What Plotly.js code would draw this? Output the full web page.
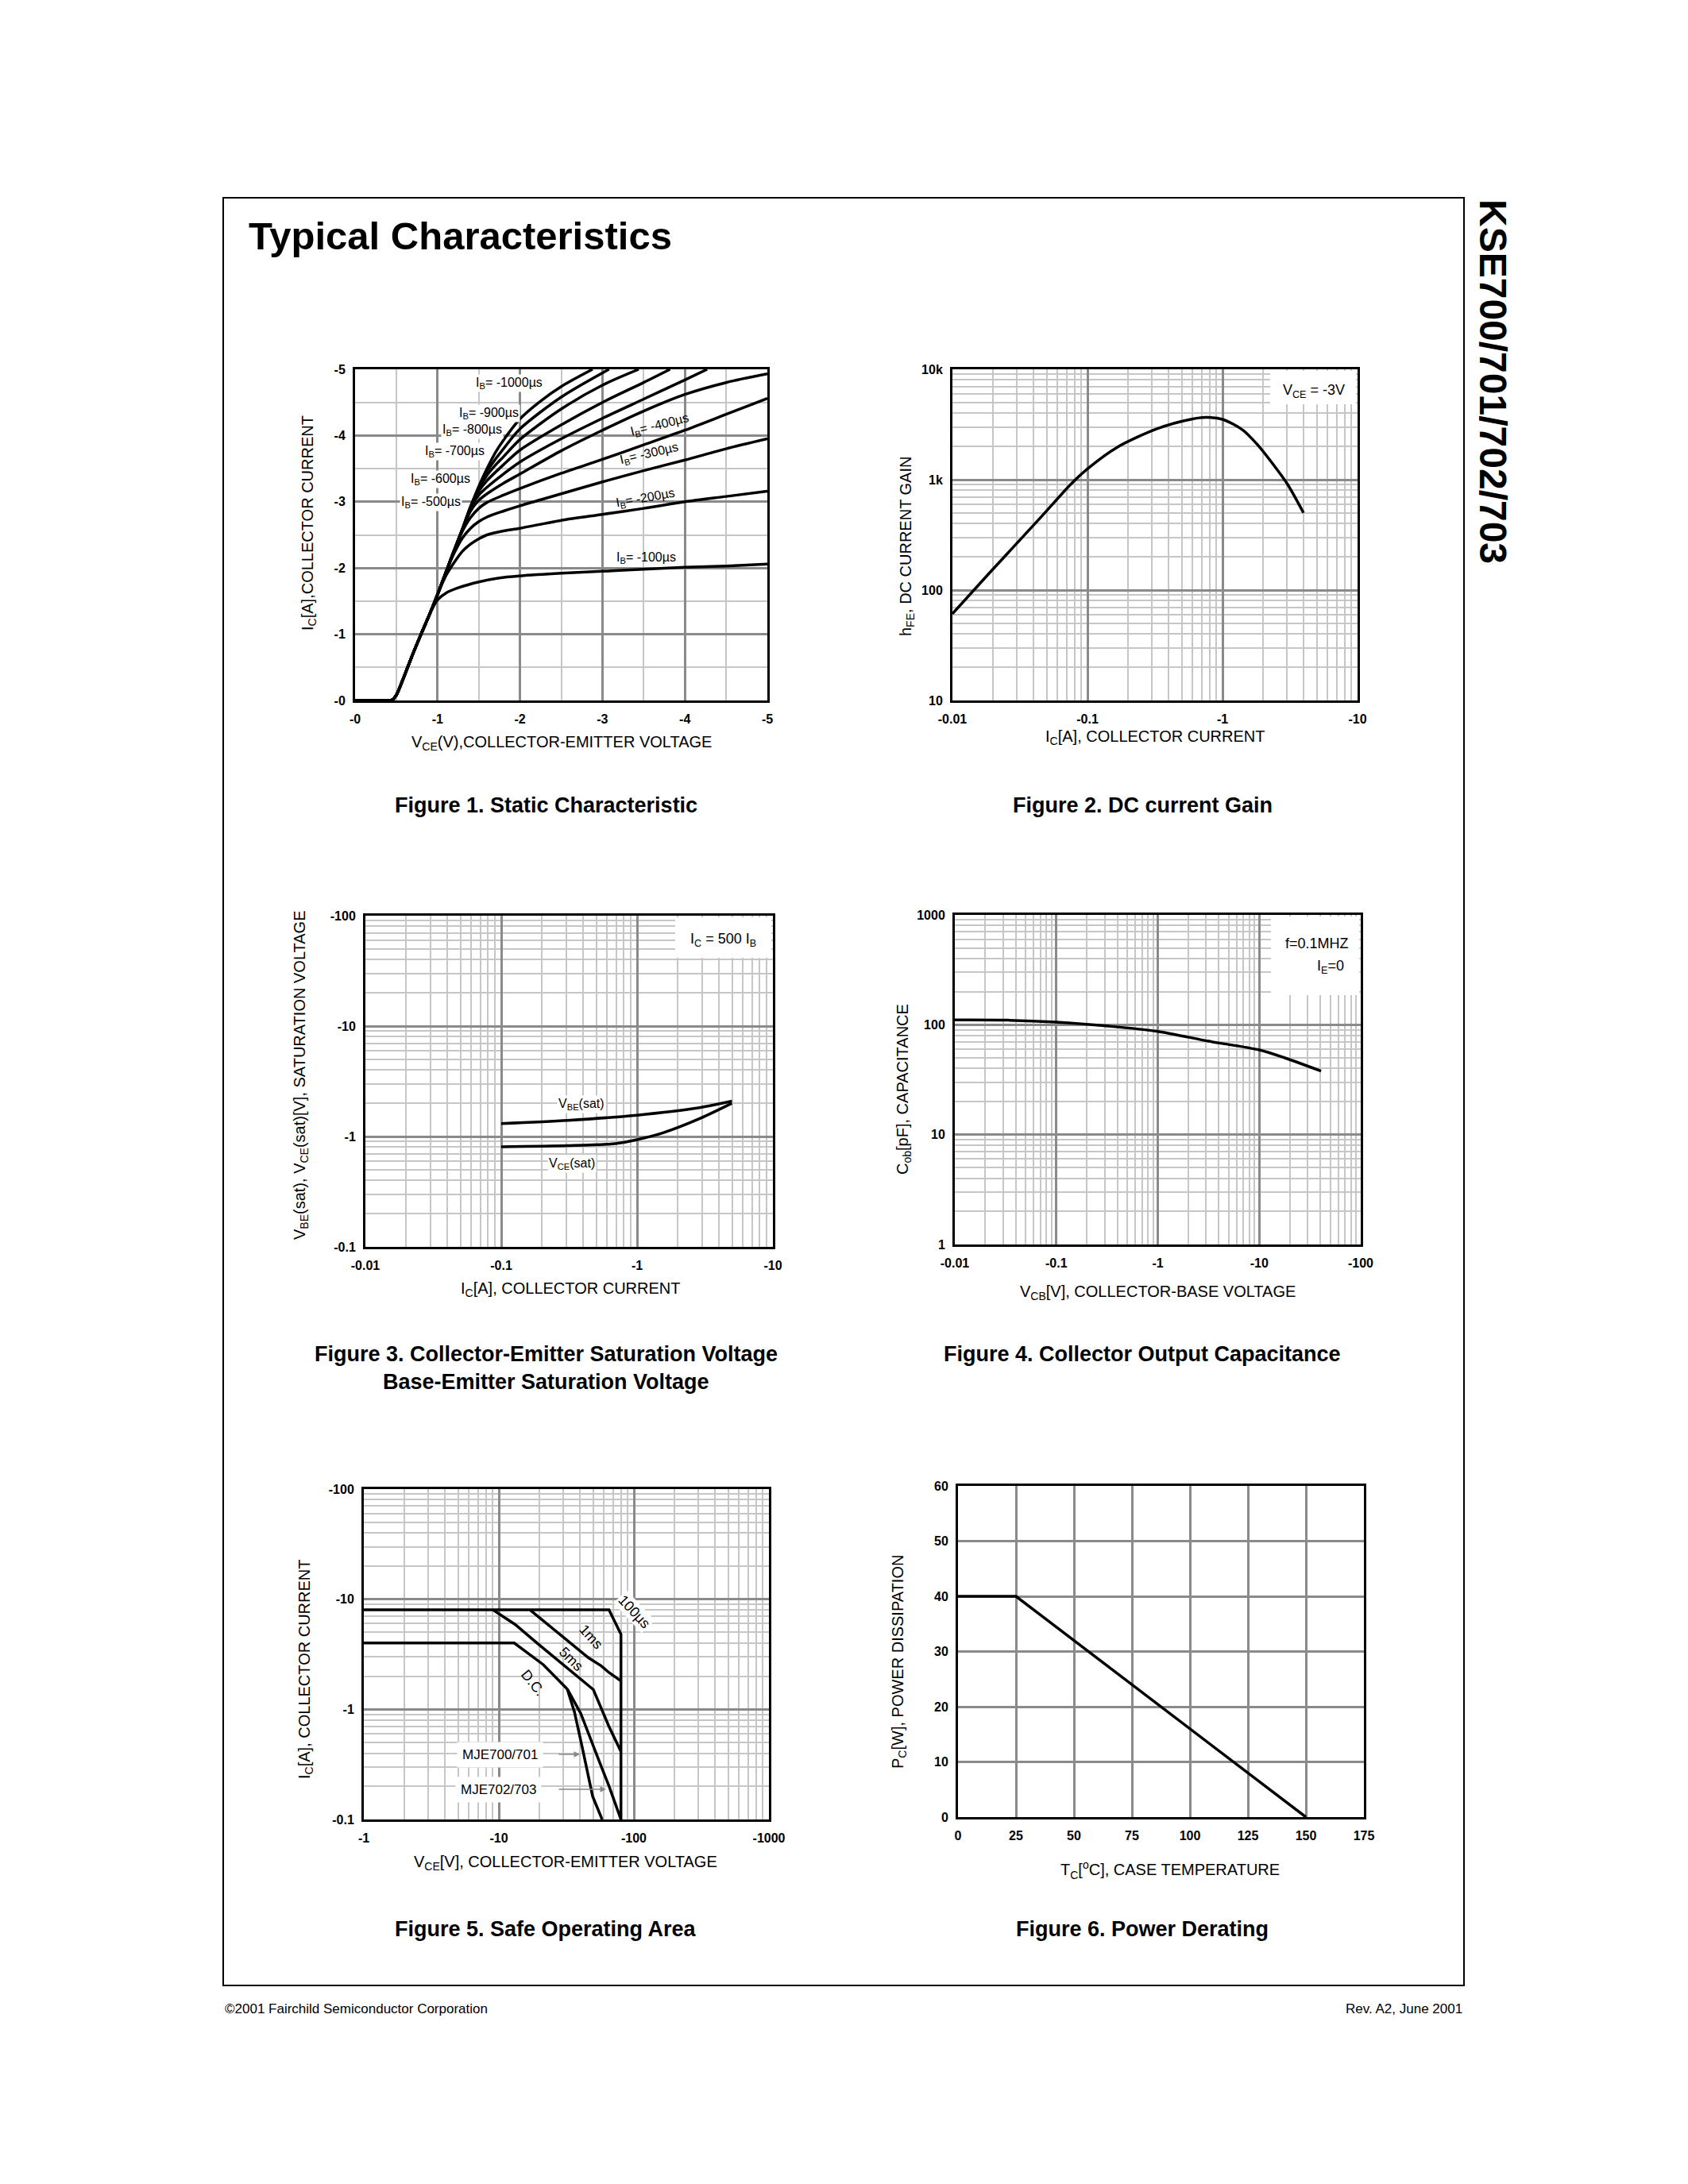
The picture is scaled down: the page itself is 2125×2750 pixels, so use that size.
<!DOCTYPE html>
<html>
<head>
<meta charset="utf-8">
<script src="https://cdn.plot.ly/plotly-3.0.1.min.js"></script>
<style>html,body{margin:0;padding:0;background:#fff;}#chart{width:2125px;height:2750px;}</style>
</head>
<body>
<div id="chart"></div>
<script>
// ---------- DATA (magnitudes; the datasheet prints the minus signs in the tick labels) ----------
// Figure 1 : Static characteristic, IC vs VCE for several IB
const vceBase = [0, 0.2, 0.4, 0.45, 0.5, 0.6, 0.7, 0.8, 0.9];
const icBase  = [0, 0, 0, 0.01, 0.08, 0.38, 0.70, 1.00, 1.29];
const ibLabels = ["-100", "-200", "-300", "-400", "-500", "-600", "-700", "-800", "-900", "-1000"];
const vce100 = [0.95, 1.0, 1.1, 1.25, 1.5, 1.75, 2.0, 2.5, 3.0, 3.5, 4.0, 4.5, 5.0];
const ic100  = [1.42, 1.52, 1.62, 1.70, 1.79, 1.85, 1.88, 1.92, 1.95, 1.98, 2.01, 2.03, 2.06];
const vce200 = [1.0, 1.1, 1.2, 1.3, 1.4, 1.5, 1.6, 1.8, 2.0, 2.5, 3.0, 3.5, 4.0, 4.5, 5.0];
const ic200  = [1.60, 1.88, 2.08, 2.25, 2.36, 2.44, 2.50, 2.56, 2.60, 2.72, 2.81, 2.90, 3.00, 3.08, 3.16];
const vce300 = [1.0, 1.1, 1.2, 1.3, 1.4, 1.5, 1.6, 1.8, 2.0, 2.5, 3.0, 3.5, 4.0, 4.5, 5.0];
const ic300  = [1.60, 1.93, 2.22, 2.45, 2.60, 2.70, 2.77, 2.86, 2.94, 3.12, 3.30, 3.47, 3.63, 3.80, 3.95];
const vce400 = [1.0, 1.1, 1.2, 1.3, 1.4, 1.5, 1.6, 1.8, 2.0, 2.5, 3.0, 3.5, 4.0, 4.5, 5.0];
const ic400  = [1.60, 1.93, 2.26, 2.55, 2.76, 2.90, 2.99, 3.10, 3.20, 3.43, 3.64, 3.86, 4.08, 4.32, 4.56];
const vce500 = [1.0, 1.1, 1.2, 1.3, 1.4, 1.5, 1.6, 1.8, 2.0, 2.5, 3.0, 3.5, 4.0, 4.5, 5.0];
const ic500  = [1.60, 1.93, 2.26, 2.58, 2.86, 3.02, 3.12, 3.28, 3.42, 3.77, 4.08, 4.37, 4.62, 4.80, 4.93];
const vce600 = [1.0, 1.1, 1.2, 1.3, 1.4, 1.5, 1.6, 1.8, 2.0, 2.5, 3.0, 3.5, 4.0, 4.27];
const ic600  = [1.60, 1.93, 2.26, 2.58, 2.90, 3.10, 3.22, 3.42, 3.60, 3.95, 4.26, 4.55, 4.84, 5.0];
const vce700 = [1.0, 1.1, 1.2, 1.3, 1.4, 1.5, 1.6, 1.8, 2.0, 2.5, 3.0, 3.5, 3.82];
const ic700  = [1.60, 1.93, 2.26, 2.58, 2.92, 3.16, 3.32, 3.56, 3.78, 4.16, 4.50, 4.80, 5.0];
const vce800 = [1.0, 1.1, 1.2, 1.3, 1.4, 1.5, 1.6, 1.7, 1.8, 2.0, 2.5, 3.0, 3.44];
const ic800  = [1.60, 1.93, 2.26, 2.58, 2.92, 3.20, 3.40, 3.55, 3.68, 3.94, 4.40, 4.76, 5.0];
const vce900 = [1.0, 1.1, 1.2, 1.3, 1.4, 1.5, 1.6, 1.7, 1.8, 2.0, 2.5, 3.08];
const ic900  = [1.60, 1.93, 2.26, 2.58, 2.92, 3.22, 3.46, 3.64, 3.80, 4.10, 4.58, 5.0];
const vce1000 = [1.0, 1.1, 1.2, 1.3, 1.4, 1.5, 1.6, 1.7, 1.8, 2.0, 2.25, 2.5, 2.88];
const ic1000  = [1.60, 1.93, 2.26, 2.58, 2.92, 3.23, 3.50, 3.74, 3.93, 4.25, 4.52, 4.74, 5.0];
const fig1XTicks = ["-0", "-1", "-2", "-3", "-4", "-5"];
const fig1YTicks = ["-0", "-1", "-2", "-3", "-4", "-5"];

// Figure 2 : DC current gain, VCE = -3V
const icGain = [0.01, 0.0189, 0.0451, 0.0753, 0.1, 0.167, 0.33, 0.582, 0.753, 1.0, 1.41, 1.81, 2.41, 3.03, 3.98];
const hfe    = [61, 144, 456, 910, 1254, 1974, 2904, 3524, 3667, 3524, 2826, 2084, 1341, 910, 501];
const fig2XTicks = ["-0.01", "-0.1", "-1", "-10"];
const fig2YTicks = ["10", "100", "1k", "10k"];

// Figure 3 : saturation voltages, IC = 500 IB
const icVbe = [0.1, 0.31, 1.0, 2.62, 4.99];
const vbeSat = [1.31, 1.40, 1.56, 1.79, 2.09];
const icVce = [0.1, 0.31, 0.69, 1.0, 1.54, 2.92, 4.99];
const vceSat = [0.807, 0.826, 0.863, 0.937, 1.076, 1.46, 2.0];
const fig3XTicks = ["-0.01", "-0.1", "-1", "-10"];
const fig3YTicks = ["-0.1", "-1", "-10", "-100"];

// Figure 4 : collector output capacitance
const vcb = [0.01, 0.0334, 0.1, 0.326, 1.0, 3.18, 10, 17.8, 40.7];
const cob = [110.5, 110, 105.7, 97.2, 87.0, 70.9, 59.0, 50.0, 37.9];
const fig4XTicks = ["-0.01", "-0.1", "-1", "-10", "-100"];
const fig4YTicks = ["1", "10", "100", "1000"];

// Figure 5 : safe operating area
const soaV100us = [1, 65.4, 80.2, 80.2];
const soaI100us = [8, 8, 4.81, 0.1];
const soaV1ms = [17.0, 29.3, 46.2, 57.3, 65.4, 80.2];
const soaI1ms = [8, 4.67, 2.93, 2.48, 2.16, 1.81];
const soaV5ms = [9.05, 13.2, 19.1, 50.1, 65.4, 80.2];
const soaI5ms = [8, 5.90, 4.01, 1.51, 0.698, 0.413];
const soaVdc = [1, 13.0, 21.3, 32.1];
const soaIdc = [4, 4, 2.55, 1.53];
const soaV701 = [32.1, 36.3, 41.5, 49.5, 58.2];
const soaI701 = [1.53, 0.945, 0.449, 0.162, 0.1];
const soaV703 = [32.1, 40.4, 55.7, 65.4, 80.2];
const soaI703 = [1.53, 0.919, 0.331, 0.201, 0.1];
const fig5XTicks = ["-1", "-10", "-100", "-1000"];
const fig5YTicks = ["-0.1", "-1", "-10", "-100"];

// Figure 6 : power derating
const tCase = [0, 25, 150];
const pDiss = [40, 40, 0];
const fig6XTicks = ["0", "25", "50", "75", "100", "125", "150", "175"];
const fig6YTicks = ["0", "10", "20", "30", "40", "50", "60"];

// ---------- LAYOUT HELPERS ----------
const W = 2125, H = 2750;
const FONT = "Liberation Sans, Arial, Helvetica, sans-serif";
const TICKFONT = "Liberation Sans Narrow, Liberation Sans, Arial, sans-serif";
const px = x => x / W;
const py = y => 1 - y / H;
// plot areas in page pixels [left, right, top, bottom]
const DOM = {
  1: [447, 966, 465, 882],
  2: [1199, 1709, 465, 882],
  3: [460, 973, 1153, 1570],
  4: [1202, 1713, 1152, 1567],
  5: [458, 968, 1875, 2291],
  6: [1206, 1717, 1871, 2288]
};
const MAJOR = "#8a8a8a", MINOR = "#c6c6c6";

function minorLog(lo, hi) {
  const v = [];
  for (let e = lo; e < hi; e++) for (let k = 2; k <= 9; k++) v.push(k * Math.pow(10, e));
  return v;
}
function decades(lo, hi) {
  const v = [];
  for (let e = lo; e <= hi; e++) v.push(Math.pow(10, e));
  return v;
}
function axis(n, isX, extra) {
  const d = DOM[n];
  const a = {
    domain: isX ? [px(d[0]), px(d[1])] : [py(d[3]), py(d[2])],
    anchor: (isX ? "y" : "x") + (n === 1 ? "" : n),
    showline: true, mirror: true, linecolor: "#000", linewidth: 3,
    ticks: "", showgrid: true, gridcolor: MAJOR, gridwidth: 2.5, zeroline: false,
    tickmode: "array",
    ticklabelstandoff: isX ? 7 : 6,
    tickfont: {family: TICKFONT, size: 16, weight: "bold", color: "#000"},
    fixedrange: true
  };
  return Object.assign(a, extra);
}
function logAxis(n, isX, lo, hi, labels) {
  return axis(n, isX, {
    type: "log", range: [lo, hi], tickvals: decades(lo, hi), ticktext: labels,
    minor: {tickmode: "array", tickvals: minorLog(lo, hi), showgrid: true, gridcolor: MINOR, gridwidth: 1.5, ticks: ""}
  });
}
function ann(text, x, y, o) {
  return Object.assign({
    text: text, xref: "paper", yref: "paper", x: px(x), y: py(y),
    xanchor: "center", yanchor: "middle", showarrow: false,
    font: {family: FONT, size: 16, color: "#000"}
  }, o || {});
}
function whiteBox(x0, x1, y0, y1) {
  return {
    type: "rect", xref: "paper", yref: "paper",
    x0: px(x0), x1: px(x1), y0: py(y1), y1: py(y0),
    fillcolor: "#fff", line: {width: 0}, layer: "above"
  };
}
function line(n, x, y, shape) {
  const s = n === 1 ? "" : n;
  return {
    type: "scatter", mode: "lines", x: x, y: y, xaxis: "x" + s, yaxis: "y" + s,
    line: {color: "#000", width: 3.5, shape: shape || "linear", smoothing: 0.8},
    hoverinfo: "skip"
  };
}

// ---------- TRACES ----------
const fig1Tails = [[vce100, ic100], [vce200, ic200], [vce300, ic300], [vce400, ic400], [vce500, ic500],
                   [vce600, ic600], [vce700, ic700], [vce800, ic800], [vce900, ic900], [vce1000, ic1000]];
const traces = [];
fig1Tails.forEach(t => traces.push(line(1, vceBase.concat(t[0]), icBase.concat(t[1]), "spline")));
traces.push(line(2, icGain, hfe, "spline"));
traces.push(line(3, icVbe, vbeSat, "spline"));
traces.push(line(3, icVce, vceSat, "spline"));
traces.push(line(4, vcb, cob, "spline"));
traces.push(line(5, soaV100us, soaI100us));
traces.push(line(5, soaV1ms, soaI1ms));
traces.push(line(5, soaV5ms, soaI5ms));
traces.push(line(5, soaVdc, soaIdc));
traces.push(line(5, soaV701, soaI701));
traces.push(line(5, soaV703, soaI703));
traces.push(line(6, tCase, pDiss));

// ---------- AXES ----------
const layout = {
  width: W, height: H, margin: {l: 0, r: 0, t: 0, b: 0},
  paper_bgcolor: "#fff", plot_bgcolor: "#fff", showlegend: false,
  font: {family: FONT, color: "#000"},
  xaxis: axis(1, true, {range: [0, 5], tickvals: [0, 1, 2, 3, 4, 5], ticktext: fig1XTicks,
    minor: {tickmode: "linear", tick0: 0, dtick: 0.5, showgrid: true, gridcolor: MINOR, gridwidth: 1.5, ticks: ""}}),
  yaxis: axis(1, false, {range: [0, 5], tickvals: [0, 1, 2, 3, 4, 5], ticktext: fig1YTicks,
    minor: {tickmode: "linear", tick0: 0, dtick: 0.5, showgrid: true, gridcolor: MINOR, gridwidth: 1.5, ticks: ""}}),
  xaxis2: logAxis(2, true, -2, 1, fig2XTicks),
  yaxis2: logAxis(2, false, 1, 4, fig2YTicks),
  xaxis3: logAxis(3, true, -2, 1, fig3XTicks),
  yaxis3: logAxis(3, false, -1, 2, fig3YTicks),
  xaxis4: logAxis(4, true, -2, 2, fig4XTicks),
  yaxis4: logAxis(4, false, 0, 3, fig4YTicks),
  xaxis5: logAxis(5, true, 0, 3, fig5XTicks),
  yaxis5: logAxis(5, false, -1, 2, fig5YTicks),
  xaxis6: axis(6, true, {range: [0, 175], tickvals: [0, 25, 50, 75, 100, 125, 150, 175], ticktext: fig6XTicks}),
  yaxis6: axis(6, false, {range: [0, 60], tickvals: [0, 10, 20, 30, 40, 50, 60], ticktext: fig6YTicks})
};

// ---------- SHAPES ----------
layout.shapes = [
  {type: "rect", xref: "paper", yref: "paper", x0: px(281), x1: px(1843), y0: py(2500), y1: py(249),
   line: {color: "#000", width: 2}, fillcolor: "rgba(0,0,0,0)", layer: "above"},
  whiteBox(1599, 1707, 467, 509),
  whiteBox(850, 971, 1155, 1206),
  whiteBox(1600, 1711, 1154, 1253)
];

// ---------- TEXT ----------
const T = 20; // axis title size
const CAP = {family: FONT, size: 27, weight: "bold", color: "#000"};
const ttl = s => ({family: FONT, size: s || T, color: "#000"});
const lbl = {family: FONT, size: 16, color: "#000"};
const A = [
  ann("Typical Characteristics", 311, 297, {xanchor: "left", font: {family: FONT, size: 49, weight: "bold", color: "#000"}}),
  ann("KSE700/701/702/703", 1880, 480, {textangle: 90, font: {family: FONT, size: 48, weight: "bold", color: "#000"}}),
  ann("©2001 Fairchild Semiconductor Corporation", 281, 2529, {xanchor: "left", font: {family: FONT, size: 17, color: "#000"}}),
  ann("Rev. A2, June 2001", 1843, 2529, {xanchor: "right", font: {family: FONT, size: 17, color: "#000"}}),
  // captions
  ann("Figure 1. Static Characteristic", 687, 1014, {font: CAP}),
  ann("Figure 2. DC current Gain", 1438, 1014, {font: CAP}),
  ann("Figure 3. Collector-Emitter Saturation Voltage", 687, 1705, {font: CAP}),
  ann("Base-Emitter Saturation Voltage", 687, 1740, {font: CAP}),
  ann("Figure 4. Collector Output Capacitance", 1438, 1705, {font: CAP}),
  ann("Figure 5. Safe Operating Area", 687, 2429, {font: CAP}),
  ann("Figure 6. Power Derating", 1438, 2429, {font: CAP}),
  // axis titles
  ann("V<sub>CE</sub>(V),COLLECTOR-EMITTER VOLTAGE", 707, 935, {font: ttl()}),
  ann("I<sub>C</sub>[A],COLLECTOR CURRENT", 388, 659, {textangle: -90, font: ttl()}),
  ann("I<sub>C</sub>[A], COLLECTOR CURRENT", 1454, 928, {font: ttl()}),
  ann("h<sub>FE</sub>, DC CURRENT GAIN", 1141, 688, {textangle: -90, font: ttl()}),
  ann("I<sub>C</sub>[A], COLLECTOR CURRENT", 718, 1623, {font: ttl()}),
  ann("V<sub>BE</sub>(sat), V<sub>CE</sub>(sat)[V], SATURATION VOLTAGE", 378, 1354, {textangle: -90, font: ttl()}),
  ann("V<sub>CB</sub>[V], COLLECTOR-BASE VOLTAGE", 1457, 1627, {font: ttl()}),
  ann("C<sub>ob</sub>[pF], CAPACITANCE", 1137, 1372, {textangle: -90, font: ttl()}),
  ann("V<sub>CE</sub>[V], COLLECTOR-EMITTER VOLTAGE", 712, 2345, {font: ttl()}),
  ann("I<sub>C</sub>[A], COLLECTOR CURRENT", 384, 2102, {textangle: -90, font: ttl()}),
  ann("T<sub>C</sub>[<sup>o</sup>C], CASE TEMPERATURE", 1473, 2354, {font: ttl()}),
  ann("P<sub>C</sub>[W], POWER DISSIPATION", 1131, 2093, {textangle: -90, font: ttl()}),
  // figure 1 curve labels
  ann("I<sub>B</sub>= " + ibLabels[9] + "µs", 641, 483, {bgcolor: "#fff", font: lbl}),
  ann("I<sub>B</sub>= " + ibLabels[8] + "µs", 615, 520, {bgcolor: "#fff", font: lbl}),
  ann("I<sub>B</sub>= " + ibLabels[7] + "µs", 594, 541, {bgcolor: "#fff", font: lbl}),
  ann("I<sub>B</sub>= " + ibLabels[6] + "µs", 572, 568, {bgcolor: "#fff", font: lbl}),
  ann("I<sub>B</sub>= " + ibLabels[5] + "µs", 554, 603, {bgcolor: "#fff", font: lbl}),
  ann("I<sub>B</sub>= " + ibLabels[4] + "µs", 542, 632, {bgcolor: "#fff", font: lbl}),
  ann("I<sub>B</sub>= " + ibLabels[3] + "µs", 830, 535, {textangle: -14, font: lbl}),
  ann("I<sub>B</sub>= " + ibLabels[2] + "µs", 817, 572, {textangle: -13, font: lbl}),
  ann("I<sub>B</sub>= " + ibLabels[1] + "µs", 812, 627, {textangle: -10, font: lbl}),
  ann("I<sub>B</sub>= " + ibLabels[0] + "µs", 813, 702, {font: lbl}),
  // boxes
  ann("V<sub>CE</sub> = -3V", 1654, 492, {font: ttl(18)}),
  ann("I<sub>C</sub> = 500 I<sub>B</sub>", 910, 1183, {font: ttl(18)}),
  ann("f=0.1MHZ", 1700, 1188, {xanchor: "right", font: ttl(18)}),
  ann("I<sub>E</sub>=0", 1694, 1217, {xanchor: "right", font: ttl(18)}),
  // figure 3 labels
  ann("V<sub>BE</sub>(sat)", 732, 1390, {bgcolor: "#fff", font: lbl}),
  ann("V<sub>CE</sub>(sat)", 720, 1465, {bgcolor: "#fff", font: lbl}),
  // figure 5 labels
  ann("100µs", 798, 2029, {textangle: 47, bgcolor: "#fff", font: ttl(18)}),
  ann("1ms", 744, 2061, {textangle: 48, font: ttl(18)}),
  ann("5ms", 719, 2089, {textangle: 45, font: ttl(18)}),
  ann("D.C.", 671, 2119, {textangle: 51, font: ttl(18)}),
  ann("MJE700/701", 629, 2209, {bgcolor: "#fff", borderpad: 6, font: ttl(17)}),
  ann("MJE702/703", 627, 2253, {bgcolor: "#fff", borderpad: 6, font: ttl(17)}),
  ann(" ", 730, 2209, {showarrow: true, ax: -30, ay: 0, arrowhead: 2, arrowsize: 1, arrowwidth: 1.5, arrowcolor: "#888"}),
  ann(" ", 763, 2253, {showarrow: true, ax: -63, ay: 0, arrowhead: 2, arrowsize: 1, arrowwidth: 1.5, arrowcolor: "#888"})
];
layout.annotations = A;

Plotly.newPlot("chart", traces, layout, {displayModeBar: false});
</script>
</body>
</html>
